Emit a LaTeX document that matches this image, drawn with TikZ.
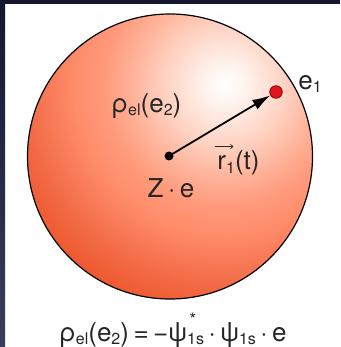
\documentclass[tikz,border=0pt]{standalone}
\usepackage{fontspec}
\setmainfont{TeX Gyre Heros}
\usetikzlibrary{arrows.meta}

\definecolor{frametop}{HTML}{15162E}
\definecolor{framebot}{HTML}{3C3C5E}
\definecolor{cloudA}{HTML}{FFF3EE}
\definecolor{cloudB}{HTML}{FFD2C2}
\definecolor{cloudC}{HTML}{FFB59C}
\definecolor{cloudD}{HTML}{FF9A7C}
\definecolor{cloudE}{HTML}{FF8C6A}
\definecolor{cloudF}{HTML}{F26A45}
\definecolor{cloudG}{HTML}{EE5A30}
\definecolor{electronred}{HTML}{E0141C}
\definecolor{electronrim}{HTML}{7A0A0A}

% radial shading at natural size: 1bp per pixel of the picture
\pgfdeclareradialshading{chargecloud}{\pgfpoint{0bp}{0bp}}{%
  color(0bp)=(white); color(20bp)=(cloudA); color(60bp)=(cloudB);
  color(90bp)=(cloudC); color(120bp)=(cloudD); color(150bp)=(cloudE);
  color(200bp)=(cloudF); color(230bp)=(cloudG); color(250bp)=(cloudG)}

\newcommand{\lsub}[1]{\raisebox{-0.25ex}{\fontsize{16}{16}\selectfont #1}}
\newcommand{\starsub}[2]{\rlap{\raisebox{0.6em}{\fontsize{17}{17}\selectfont\hspace{2.5pt}#1}}\lsub{#2}}
\newcommand{\gap}{\hspace{4.5pt}}

\begin{document}
\begin{tikzpicture}[x=1pt,y=-1pt,
    label/.style={inner sep=0pt, font=\fontsize{26}{29}\selectfont, text=black!85},
    nucleus/.style={circle, fill=black, inner sep=0pt, minimum size=9pt},
    electron/.style={circle, fill=electronred, draw=electronrim, line width=0.8pt, inner sep=0pt, minimum size=12.5pt},
    vecarrow/.style={-{Latex[length=18pt,width=11pt]}, line width=1.8pt},
    vecmark/.style={-{To[length=3pt,width=5pt]}, line width=0.7pt, black!85},
  ]
  \useasboundingbox (0,0) rectangle (340,347);
  % frame
  \fill[white] (0,0) rectangle (340,347);
  \fill[frametop] (0,0) rectangle (340,4.5);
  \shade[top color=frametop, bottom color=framebot] (0,0) rectangle (5,347);

  % charge cloud
  \begin{scope}
    \clip (170,156.5) circle (142.5pt);
    \node[inner sep=0pt] (glow) at (225,85) {\pgfuseshading{chargecloud}};
  \end{scope}
  \draw[line width=1.2pt] (170,156.5) circle (142.5pt);

  \node[nucleus] (nucleus) at (169,156) {};
  \node[electron] (electron) at (276,92) {};
  \draw[vecarrow] (nucleus.center) -- (electron);

  \node[label] (rho) at (146.5,106) {ρ\lsub{el}(e\lsub{2})};
  \node[label] (e1) at (310,84) {e\lsub{1}};
  \node[label] (charge) at (171,188) {Z\gap·\gap e};
  \node[label] (r1) at (238.5,163) {r\lsub{1}(t)};
  \draw[vecmark] ([shift={(-2,-4)}]r1.north west) -- ++(18,0);
  \node[label] (density) at (173,330) {ρ\lsub{el}(e\lsub{2})\gap=\gap−ψ\starsub{*}{1s}\gap·\gap ψ\lsub{1s}\gap·\gap e};
\end{tikzpicture}
\end{document}
